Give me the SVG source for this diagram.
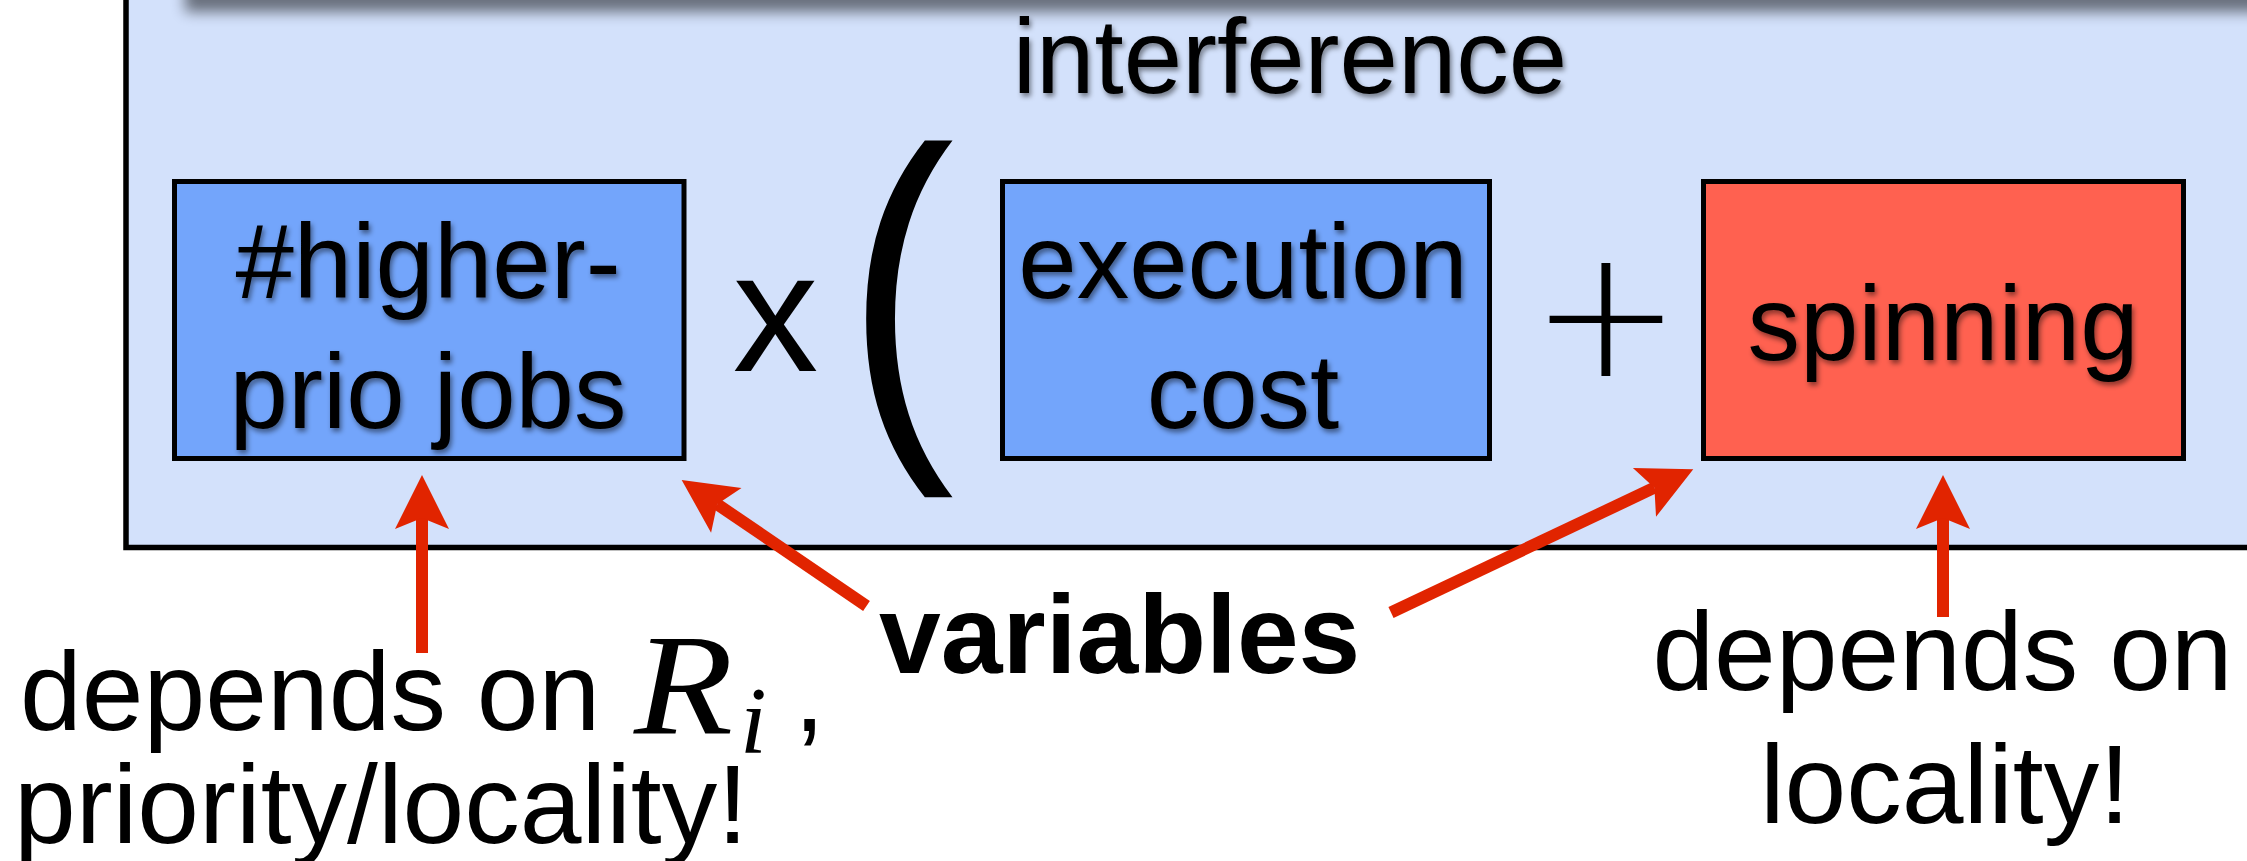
<svg xmlns="http://www.w3.org/2000/svg" width="2247" height="861" viewBox="0 0 2247 861">
  <style>
    .sans { font-family: "Liberation Sans", Arial, Helvetica, sans-serif; fill: #000; }
    .math { font-family: "Liberation Serif", "Times New Roman", serif; font-style: italic; fill: #000; }
    .thin { font-family: "DejaVu Sans", "Liberation Sans", sans-serif; font-weight: 200; fill: #000; }
    .box-label { font-size: 105px; text-anchor: middle; filter: url(#txtShadow); }
    .note { font-size: 111px; }
    .term-blue { fill: #73A5FB; stroke: #000; stroke-width: 5; }
    .term-red { fill: #FF6150; stroke: #000; stroke-width: 5; }
    .arrow { stroke: #E12400; stroke-width: 12; fill: none; stroke-linecap: butt; marker-end: url(#head); }
  </style>
  <defs>
    <filter id="txtShadow" x="-10%" y="-30%" width="120%" height="160%">
      <feDropShadow dx="2" dy="3.5" stdDeviation="2.5" flood-color="#000" flood-opacity="0.45"/>
    </filter>
    <filter id="bandBlur" filterUnits="userSpaceOnUse" x="100" y="-200" width="2300" height="300">
      <feGaussianBlur stdDeviation="7"/>
    </filter>
    <clipPath id="frameClip">
      <rect x="128" y="0" width="2200" height="517"/>
    </clipPath>
    <marker id="head" markerUnits="userSpaceOnUse" viewBox="-12 -28 56 56" refX="0" refY="0" markerWidth="56" markerHeight="56" orient="auto">
      <path d="M43,0 L-11,-27 L0,0 L-11,27 Z" fill="#E12400"/>
    </marker>
  </defs>

  <rect x="0" y="0" width="2247" height="861" fill="#FFFFFF"/>

  <!-- interference frame -->
  <g id="frame">
    <rect x="126" y="-60" width="2200" height="607.5" fill="#D3E1FB" stroke="#000" stroke-width="5.5"/>
    <!-- shadow cast by the panel above the frame -->
    <g clip-path="url(#frameClip)">
      <rect x="185" y="-150" width="2200" height="162" fill="#000" opacity="0.5" filter="url(#bandBlur)"/>
    </g>
    <text class="sans" x="1290" y="93" font-size="105" text-anchor="middle" filter="url(#txtShadow)">interference</text>
  </g>

  <g id="higher-prio-jobs">
    <rect class="term-blue" x="174.5" y="181.5" width="509.5" height="277"/>
    <text class="sans box-label" x="428" y="298">#higher-</text>
    <text class="sans box-label" x="428" y="428">prio jobs</text>
  </g>

  <g id="times-sign">
    <text class="sans" x="775.5" y="371" font-size="171" text-anchor="middle">x</text>
  </g>

  <g id="open-paren">
    <text class="sans" transform="translate(846 418) scale(0.85 1)" x="0" y="0" font-size="383">(</text>
  </g>

  <g id="execution-cost">
    <rect class="term-blue" x="1002.5" y="181.5" width="487" height="277"/>
    <text class="sans box-label" x="1243" y="298">execution</text>
    <text class="sans box-label" x="1243" y="428">cost</text>
  </g>

  <g id="plus-sign">
    <text class="thin" x="1606" y="376" font-size="180" text-anchor="middle">+</text>
  </g>

  <g id="spinning">
    <rect class="term-red" x="1703.5" y="181.5" width="480" height="277"/>
    <text class="sans box-label" x="1943" y="360">spinning</text>
  </g>

  <g id="note-left">
    <text class="sans note" x="20" y="730">depends on</text>
    <text class="math" transform="translate(634 733) scale(1.12 1)" x="0" y="0" font-size="145">R</text>
    <text class="math" x="740" y="753" font-size="96">i</text>
    <text class="sans note" x="794" y="731">,</text>
    <text class="sans note" x="14" y="843">priority/locality!</text>
  </g>

  <g id="note-variables">
    <text class="sans" x="879" y="673" font-size="111" font-weight="bold">variables</text>
  </g>

  <g id="note-right">
    <text class="sans note" x="1942.5" y="690" text-anchor="middle">depends on</text>
    <text class="sans note" x="1945" y="823" text-anchor="middle">locality!</text>
  </g>

  <g id="connectors">
    <path class="arrow" d="M422,653 L422,518"/>
    <path class="arrow" d="M866.5,606 L717.2,504.2"/>
    <path class="arrow" d="M1391,612.5 L1654.4,487.7"/>
    <path class="arrow" d="M1943,617 L1943,518"/>
  </g>
</svg>
